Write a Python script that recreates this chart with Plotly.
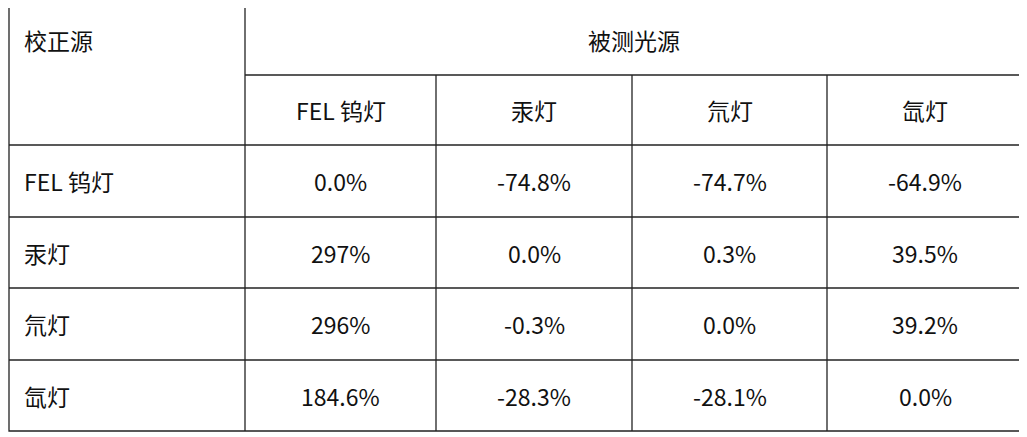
import plotly.graph_objects as go

corner_label = "校正源"
group_label = "被测光源"
columns = ["FEL 钨灯", "汞灯", "氘灯", "氙灯"]
rows = ["FEL 钨灯", "汞灯", "氘灯", "氙灯"]
values = [
    ["0.0%", "-74.8%", "-74.7%", "-64.9%"],
    ["297%", "0.0%", "0.3%", "39.5%"],
    ["296%", "-0.3%", "0.0%", "39.2%"],
    ["184.6%", "-28.3%", "-28.1%", "0.0%"],
]

W, H = 1027, 437
OFF = 8  # page body margin
xs = [9, 245, 436, 632, 827, 1023]
ys = [6, 75, 145, 217, 288, 360, 431]
font = dict(family="Noto Sans CJK SC", size=23, color="#111")

fig = go.Figure()
shapes = []
line = dict(color="#222", width=1.3)
shapes.append(dict(type="rect", x0=xs[0], x1=xs[-1], y0=ys[0], y1=ys[-1], line=line))
for i, x in enumerate(xs[1:-1], start=1):
    y0 = ys[0] if i == 1 else ys[1]
    shapes.append(dict(type="line", x0=x, x1=x, y0=y0, y1=ys[-1], line=line))
shapes.append(dict(type="line", x0=xs[1], x1=xs[-1], y0=ys[1], y1=ys[1], line=line))
for y in ys[2:-1]:
    shapes.append(dict(type="line", x0=xs[0], x1=xs[-1], y0=y, y1=y, line=line))

ann = []
ann.append(dict(x=22, y=40, text=corner_label, xanchor="left", yanchor="middle", showarrow=False, font=font))
ann.append(dict(x=(xs[1] + xs[-1]) / 2, y=40, text=group_label, xanchor="center", yanchor="middle", showarrow=False, font=font))
for j, c in enumerate(columns):
    ann.append(dict(x=(xs[j + 1] + xs[j + 2]) / 2, y=(ys[1] + ys[2]) / 2, text=c, xanchor="center", yanchor="middle", showarrow=False, font=font))
for i, r in enumerate(rows):
    yc = (ys[i + 2] + ys[i + 3]) / 2
    ann.append(dict(x=22, y=yc, text=r, xanchor="left", yanchor="middle", showarrow=False, font=font))
    for j, v in enumerate(values[i]):
        ann.append(dict(x=(xs[j + 1] + xs[j + 2]) / 2, y=yc, text=v, xanchor="center", yanchor="middle", showarrow=False, font=font))

fig.update_layout(
    width=W - OFF, height=H - OFF, margin=dict(l=0, r=0, t=0, b=0),
    paper_bgcolor="white", plot_bgcolor="white",
    xaxis=dict(range=[OFF, W], visible=False, fixedrange=True),
    yaxis=dict(range=[H, OFF], visible=False, fixedrange=True),
    shapes=shapes, annotations=ann, showlegend=False,
)
fig.write_html("out.html", config={"displayModeBar": False})
